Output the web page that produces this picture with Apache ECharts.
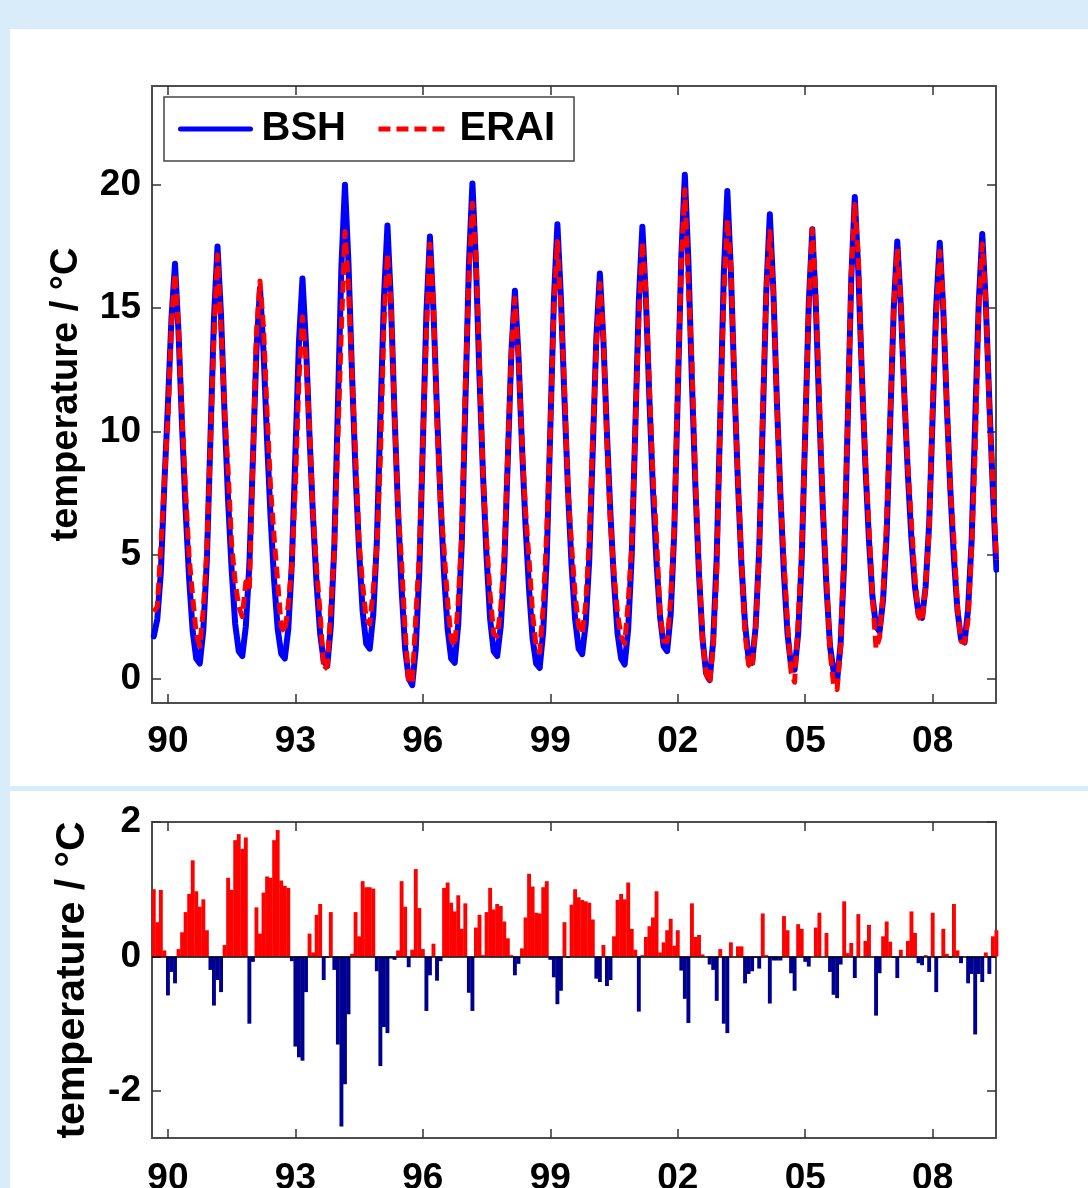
<!DOCTYPE html>
<html>
<head>
    <meta charset="UTF-8">
    <title>BSH vs ERAI temperature</title>
    <script src="https://cdn.jsdelivr.net/npm/echarts@6.0.0/dist/echarts.min.js"></script>
    <style>
        body { margin: 0; width: 1088px; height: 1188px; overflow: hidden; background: #d8ecfa; position: relative; }
        .panel { position: absolute; left: 10px; width: 1078px; background: #fff; }
        #top-panel { top: 29px; height: 757px; }
        #bottom-panel { top: 791px; height: 397px; }
        #chart { position: absolute; left: 0; top: 0; width: 1088px; height: 1188px; }
    </style>
</head>
<body>
<div class="panel" id="top-panel"></div>
<div class="panel" id="bottom-panel"></div>
<div id="chart"></div>
<script>
    // monthly values, first month sits at START on the year axis
    var START = 1989 + 8 / 12;
    var XMIN = 1989.625, XMAX = 2009.49;
    var YEAR_TICKS = [1990, 1993, 1996, 1999, 2002, 2005, 2008];
    var TEMP_TICKS = [0, 5, 10, 15, 20];
    var DIFF_TICKS = [-2, 0, 2];

    // BSH (blue, solid)
    var bsh = [
        1.7, 2.4, 4.3, 7.9, 11.1, 14.6, 16.8, 14.0, 10.2, 6.8, 4.0, 1.9,
        0.8, 0.6, 1.95, 4.8, 9.7, 14.6, 17.5, 14.7, 10.7, 7.2, 4.4, 2.2,
        1.1, 0.9, 2.1, 4.6, 8.9, 13.3, 15.8, 13.25, 9.65, 6.5, 3.95, 2.0,
        1.0, 0.8, 2.0, 4.65, 9.1, 13.6, 16.2, 13.5, 9.8, 6.5, 3.8, 1.8,
        0.7, 0.5, 2.1, 5.4, 11.0, 16.7, 20.0, 16.8, 12.3, 8.3, 5.15, 2.7,
        1.4, 1.2, 2.6, 5.5, 10.5, 15.4, 18.35, 15.2, 10.7, 6.8, 3.6, 1.2,
        0.0, -0.28, 1.2, 4.3, 9.5, 14.8, 17.9, 14.9, 10.8, 7.2, 4.2, 2.0,
        0.8, 0.63, 2.2, 5.5, 11.1, 16.75, 20.05, 16.8, 12.2, 8.2, 4.9, 2.4,
        1.1, 0.9, 2.1, 4.6, 8.9, 13.2, 15.7, 13.1, 9.4, 6.2, 3.6, 1.6,
        0.6, 0.42, 1.9, 4.9, 10.1, 15.3, 18.4, 15.4, 11.3, 7.6, 4.6, 2.4,
        1.2, 0.98, 2.2, 4.8, 9.3, 13.8, 16.4, 13.7, 9.9, 6.6, 3.9, 1.8,
        0.8, 0.56, 2.0, 5.0, 10.1, 15.3, 18.3, 15.4, 11.25, 7.6, 4.7, 2.5,
        1.3, 1.1, 2.6, 5.9, 11.5, 17.1, 20.4, 16.9, 12.0, 7.7, 4.2, 1.6,
        0.2, -0.07, 1.5, 4.9, 10.6, 16.4, 19.75, 16.5, 11.9, 7.9, 4.6, 2.2,
        0.8, 0.63, 2.1, 5.2, 10.4, 15.7, 18.8, 15.7, 11.2, 7.4, 4.2, 1.8,
        0.5, 0.35, 1.8, 4.8, 10.0, 15.2, 18.2, 15.1, 10.7, 6.8, 3.7, 1.3,
        0.3, -0.1, 1.4, 4.7, 10.4, 16.2, 19.5, 16.5, 12.3, 8.6, 5.6, 3.3,
        2.1, 1.9, 3.2, 5.85, 10.4, 15.0, 17.7, 15.1, 11.45, 8.25, 5.65, 3.7,
        2.6, 2.45, 3.7, 6.25, 10.7, 15.1, 17.65, 14.9, 11.0, 7.6, 4.85, 2.75,
        1.6, 1.45, 2.8, 5.6, 10.4, 15.2, 18.0, 15.2, 11.2, 7.6, 4.4
    ];

    // ERAI (red, dashed)
    var erai = [
        2.7, 2.9, 5.3, 8.0, 10.5, 14.4, 16.4, 14.1, 10.6, 7.5, 4.9, 3.3,
        1.8, 1.3, 2.8, 5.2, 9.5, 13.9, 17.15, 14.2, 10.9, 8.4, 5.4, 3.9,
        2.9, 2.5, 3.9, 3.6, 8.8, 14.0, 16.1, 14.2, 10.8, 7.7, 5.7, 3.9,
        2.1, 1.85, 3.0, 4.6, 7.8, 12.1, 14.65, 13.0, 10.1, 6.6, 4.4, 2.6,
        0.35, 0.5, 2.8, 5.2, 9.7, 14.2, 18.1, 15.9, 12.3, 9.0, 5.45, 3.8,
        2.4, 2.2, 3.6, 5.3, 8.9, 14.35, 17.2, 15.2, 10.65, 6.9, 4.7, 1.9,
        -0.16, -0.18, 2.5, 5.0, 9.6, 14.0, 17.6, 15.1, 10.4, 7.1, 5.2, 3.1,
        1.6, 1.3, 3.1, 5.9, 11.9, 16.2, 19.25, 17.2, 12.8, 8.2, 5.6, 3.4,
        1.8, 1.7, 2.85, 5.1, 9.2, 13.2, 15.4, 13.0, 9.5, 6.8, 4.8, 2.6,
        1.25, 1.06, 2.9, 6.0, 10.05, 15.0, 17.7, 14.9, 11.8, 7.6, 5.4, 3.4,
        2.1, 1.8, 3.0, 5.6, 9.85, 13.5, 16.0, 13.9, 9.5, 6.25, 4.2, 2.6,
        1.7, 1.4, 3.1, 5.4, 10.2, 14.5, 17.7, 15.7, 11.7, 8.2, 5.7, 2.6,
        1.5, 1.5, 3.2, 6.1, 11.9, 16.9, 19.8, 15.9, 12.8, 8.0, 4.5, 1.6,
        0.2, -0.2, 1.3, 4.2, 10.7, 15.4, 18.6, 16.7, 11.9, 8.05, 4.75, 1.8,
        0.55, 0.4, 2.1, 5.0, 11.0, 15.7, 18.1, 15.6, 11.1, 7.3, 4.8, 2.2,
        0.25, -0.16, 2.3, 5.2, 9.9, 15.05, 18.2, 15.5, 11.35, 6.8, 4.05, 1.1,
        -0.25, -0.45, 1.3, 5.5, 10.45, 16.4, 19.2, 17.1, 12.3, 8.8, 6.1, 3.3,
        1.2, 1.65, 3.5, 6.4, 10.6, 15.0, 17.4, 15.2, 11.45, 8.5, 6.3, 4.05,
        2.5, 2.3, 3.7, 6.0, 11.35, 14.6, 17.3, 15.3, 11.0, 7.6, 5.6, 2.85,
        1.5, 1.45, 2.4, 5.3, 9.2, 14.9, 17.6, 15.3, 10.9, 7.9, 4.8
    ];

    // ERAI - BSH (lower panel bars)
    var diff = [
        1.0, 0.51, 0.99, 0.09, -0.58, -0.23, -0.40, 0.11, 0.36, 0.66, 0.93, 1.43,
        0.97, 0.74, 0.85, 0.39, -0.2, -0.73, -0.35, -0.53, 0.17, 1.17, 0.99, 1.73,
        1.82, 1.6, 1.77, -1.0, -0.08, 0.73, 0.34, 0.95, 1.19, 1.17, 1.73, 1.88,
        1.13, 1.05, 1.02, -0.07, -1.34, -1.5, -1.55, -0.53, 0.34, 0.06, 0.62, 0.78,
        -0.35, -0.02, 0.66, -0.2, -1.31, -2.53, -1.9, -0.86, 0.04, 0.66, 0.3, 1.12,
        1.03, 1.03, 1.01, -0.22, -1.63, -1.05, -1.14, -0.03, -0.05, 0.09, 1.12, 0.74,
        -0.16, 0.1, 1.3, 0.72, 0.11, -0.81, -0.28, 0.19, -0.36, -0.07, 1.02, 1.1,
        0.8, 0.67, 0.91, 0.41, 0.79, -0.54, -0.81, 0.43, 0.62, 0.02, 0.66, 1.02,
        0.7, 0.78, 0.75, 0.52, 0.27, 0.02, -0.28, -0.11, 0.12, 0.58, 1.23, 1.04,
        0.65, 0.64, 1.03, 1.12, -0.05, -0.31, -0.71, -0.51, 0.51, -0.02, 0.77, 1.0,
        0.88, 0.84, 0.82, 0.8, 0.55, -0.33, -0.38, 0.17, -0.44, -0.35, 0.3, 0.84,
        0.93, 0.85, 1.10, 0.41, 0.10, -0.82, 0.02, 0.29, 0.45, 0.58, 0.97, 0.06,
        0.21, 0.39, 0.56, 0.16, 0.39, -0.21, -0.63, -0.99, 0.79, 0.29, 0.32, 0.03,
        0.0, -0.12, -0.2, -0.66, 0.11, -1.0, -1.14, 0.21, 0.0, 0.15, 0.15, -0.4,
        -0.26, -0.22, -0.02, -0.18, 0.64, 0.02, -0.70, -0.06, -0.06, -0.06, 0.6, 0.39,
        -0.25, -0.51, 0.48, 0.41, -0.08, -0.15, 0.0, 0.43, 0.65, 0.0, 0.35, -0.23,
        -0.57, -0.62, -0.12, 0.82, 0.05, 0.2, -0.32, 0.63, 0.0, 0.23, 0.47, 0.0,
        -0.88, -0.25, 0.3, 0.52, 0.22, -0.02, -0.32, 0.1, 0.0, 0.23, 0.67, 0.35,
        -0.1, -0.13, 0.02, -0.23, 0.65, -0.53, -0.02, 0.41, 0.04, -0.02, 0.78, 0.09,
        -0.1, 0.0, -0.4, -0.26, -1.16, -0.26, -0.38, 0.06, -0.26, 0.3, 0.39
    ];

    function pairs(arr) {
        return arr.map(function (v, i) { return [START + i / 12, v]; });
    }

    var FONT = 'Liberation Sans, Arial, Helvetica, sans-serif';
    var frame = { show: true, onZero: false, lineStyle: { color: '#4d4d4d', width: 2 } };

    function xAxis(grid, pos, labels, margin) {
        return {
            gridIndex: grid, type: 'value', position: pos, min: XMIN, max: XMAX,
            axisLine: frame,
            splitLine: { show: false },
            axisTick: { show: true, inside: true, length: 9, customValues: YEAR_TICKS,
                        lineStyle: { color: '#333', width: 1.5 } },
            axisLabel: { show: labels, customValues: YEAR_TICKS, margin: margin || 20,
                         fontSize: 37, fontWeight: 'bold', fontFamily: FONT, color: '#000',
                         formatter: function (v) { return String(Math.round(v) % 100).padStart(2, '0'); } }
        };
    }

    function yAxis(grid, pos, min, max, ticks, name, nameSize, nameGap) {
        return {
            gridIndex: grid, type: 'value', position: pos, min: min, max: max,
            axisLine: frame,
            splitLine: { show: false },
            axisTick: { show: true, inside: true, length: 9, customValues: ticks,
                        lineStyle: { color: '#333', width: 1.5 } },
            axisLabel: { show: pos === 'left', customValues: ticks, margin: 11,
                         fontSize: 37, fontWeight: 'bold', fontFamily: FONT, color: '#000' },
            name: name, nameLocation: 'middle', nameGap: nameGap, nameRotate: 90,
            nameTextStyle: { fontSize: nameSize, fontWeight: 'bold', fontFamily: FONT, color: '#000' }
        };
    }

    var chart = echarts.init(document.getElementById('chart'), null, { renderer: 'canvas' });
    chart.setOption({
        animation: false,
        backgroundColor: 'transparent',
        grid: [
            { left: 152, top: 86, width: 844, height: 617, outerBoundsMode: 'none' },
            { left: 152, top: 822, width: 844, height: 316, outerBoundsMode: 'none' }
        ],
        legend: {
            data: ['BSH', 'ERAI'],
            left: 164, top: 97,
            itemWidth: 70, itemHeight: 20, itemGap: 30,
            padding: [12, 19, 12, 14],
            borderColor: '#444', borderWidth: 1.5,
            backgroundColor: '#fff',
            itemStyle: { opacity: 0 },
            lineStyle: { width: 5 },
            textStyle: { fontSize: 40, fontWeight: 'bold', fontFamily: FONT, color: '#000',
                         lineHeight: 40, padding: [0, 0, 0, 6] }
        },
        xAxis: [
            xAxis(0, 'bottom', true, 20),
            xAxis(0, 'top', false),
            xAxis(1, 'bottom', true, 22),
            xAxis(1, 'top', false)
        ],
        yAxis: [
            yAxis(0, 'left', -1, 24, TEMP_TICKS, 'temperature / °C', 38, 66),
            yAxis(0, 'right', -1, 24, TEMP_TICKS, '', 38, 0),
            yAxis(1, 'left', -2.7, 2, DIFF_TICKS, 'temperature / °C', 41, 59),
            yAxis(1, 'right', -2.7, 2, DIFF_TICKS, '', 41, 0)
        ],
        series: [
            {
                name: 'BSH', type: 'line', xAxisIndex: 0, yAxisIndex: 0,
                data: pairs(bsh), showSymbol: false, symbol: 'none', z: 2,
                lineStyle: { color: '#0000ff', width: 6, join: 'round', cap: 'round' },
                itemStyle: { color: '#0000ff' }
            },
            {
                name: 'ERAI', type: 'line', xAxisIndex: 0, yAxisIndex: 0,
                data: pairs(erai), showSymbol: false, symbol: 'none', z: 3,
                lineStyle: { color: '#ff0000', width: 5, type: [12, 6], join: 'round' },
                itemStyle: { color: '#ff0000' }
            },
            {
                name: 'diff', type: 'bar', xAxisIndex: 2, yAxisIndex: 2,
                data: pairs(diff), barWidth: 3.9,
                itemStyle: {
                    color: function (p) { return p.value[1] >= 0 ? '#ff0000' : '#000090'; }
                },
                markLine: {
                    silent: true, symbol: 'none', label: { show: false },
                    lineStyle: { color: '#000', width: 1.5, type: 'solid' },
                    data: [{ yAxis: 0 }]
                }
            }
        ]
    });
</script>
</body>
</html>
